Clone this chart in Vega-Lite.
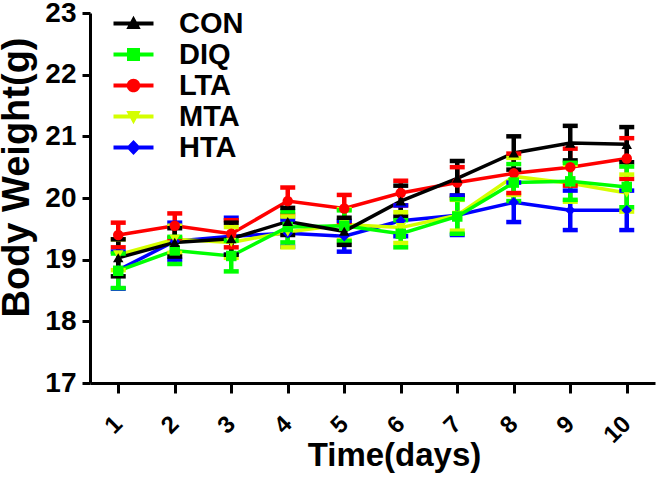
{
  "$schema": "https://vega.github.io/schema/vega-lite/v6.json",
  "autosize": {"type": "none"},
  "width": 565,
  "height": 370,
  "padding": {"left": 90, "top": 13, "right": 6, "bottom": 95},
  "background": "white",
  "config": {
    "view": {"stroke": null},
    "font": "Liberation Sans",
    "axis": {"grid": false, "domainColor": "black", "domainWidth": 3, "tickColor": "black", "tickWidth": 3, "tickSize": 8, "labelFont": "Liberation Sans", "labelFontWeight": "bold", "labelFontSize": 28, "labelColor": "black", "titleFont": "Liberation Sans", "titleFontWeight": "bold", "titleFontSize": 33, "titleColor": "black"},
    "range": {"category": ["#000000", "#00FF00", "#FF0000", "#D4FF00", "#0000FF"]}
  },
  "data": {"values": [
    {"group": "HTA", "day": 1, "mean": 18.83, "lo": 18.53, "hi": 19.13},
    {"group": "HTA", "day": 2, "mean": 19.30, "lo": 19.00, "hi": 19.60},
    {"group": "HTA", "day": 3, "mean": 19.38, "lo": 19.08, "hi": 19.68},
    {"group": "HTA", "day": 4, "mean": 19.43, "lo": 19.21, "hi": 19.65},
    {"group": "HTA", "day": 5, "mean": 19.38, "lo": 19.13, "hi": 19.63},
    {"group": "HTA", "day": 6, "mean": 19.63, "lo": 19.38, "hi": 19.88},
    {"group": "HTA", "day": 7, "mean": 19.72, "lo": 19.40, "hi": 20.04},
    {"group": "HTA", "day": 8, "mean": 19.93, "lo": 19.61, "hi": 20.25},
    {"group": "HTA", "day": 9, "mean": 19.80, "lo": 19.48, "hi": 20.12},
    {"group": "HTA", "day": 10, "mean": 19.80, "lo": 19.48, "hi": 20.12},
    {"group": "MTA", "day": 1, "mean": 19.08, "lo": 18.83, "hi": 19.33},
    {"group": "MTA", "day": 2, "mean": 19.33, "lo": 19.11, "hi": 19.55},
    {"group": "MTA", "day": 3, "mean": 19.28, "lo": 19.03, "hi": 19.53},
    {"group": "MTA", "day": 4, "mean": 19.45, "lo": 19.20, "hi": 19.70},
    {"group": "MTA", "day": 5, "mean": 19.57, "lo": 19.32, "hi": 19.82},
    {"group": "MTA", "day": 6, "mean": 19.52, "lo": 19.27, "hi": 19.77},
    {"group": "MTA", "day": 7, "mean": 19.72, "lo": 19.47, "hi": 19.97},
    {"group": "MTA", "day": 8, "mean": 20.35, "lo": 20.05, "hi": 20.65},
    {"group": "MTA", "day": 9, "mean": 20.24, "lo": 19.94, "hi": 20.54},
    {"group": "MTA", "day": 10, "mean": 20.08, "lo": 19.78, "hi": 20.38},
    {"group": "LTA", "day": 1, "mean": 19.40, "lo": 19.20, "hi": 19.60},
    {"group": "LTA", "day": 2, "mean": 19.55, "lo": 19.35, "hi": 19.75},
    {"group": "LTA", "day": 3, "mean": 19.42, "lo": 19.20, "hi": 19.64},
    {"group": "LTA", "day": 4, "mean": 19.95, "lo": 19.73, "hi": 20.17},
    {"group": "LTA", "day": 5, "mean": 19.83, "lo": 19.61, "hi": 20.05},
    {"group": "LTA", "day": 6, "mean": 20.08, "lo": 19.88, "hi": 20.28},
    {"group": "LTA", "day": 7, "mean": 20.25, "lo": 20.00, "hi": 20.50},
    {"group": "LTA", "day": 8, "mean": 20.40, "lo": 20.08, "hi": 20.72},
    {"group": "LTA", "day": 9, "mean": 20.50, "lo": 20.20, "hi": 20.80},
    {"group": "LTA", "day": 10, "mean": 20.64, "lo": 20.31, "hi": 20.97},
    {"group": "DIQ", "day": 1, "mean": 18.82, "lo": 18.54, "hi": 19.10},
    {"group": "DIQ", "day": 2, "mean": 19.15, "lo": 18.93, "hi": 19.37},
    {"group": "DIQ", "day": 3, "mean": 19.06, "lo": 18.81, "hi": 19.31},
    {"group": "DIQ", "day": 4, "mean": 19.53, "lo": 19.28, "hi": 19.78},
    {"group": "DIQ", "day": 5, "mean": 19.55, "lo": 19.30, "hi": 19.80},
    {"group": "DIQ", "day": 6, "mean": 19.42, "lo": 19.20, "hi": 19.64},
    {"group": "DIQ", "day": 7, "mean": 19.70, "lo": 19.42, "hi": 19.98},
    {"group": "DIQ", "day": 8, "mean": 20.25, "lo": 19.95, "hi": 20.55},
    {"group": "DIQ", "day": 9, "mean": 20.27, "lo": 19.97, "hi": 20.57},
    {"group": "DIQ", "day": 10, "mean": 20.18, "lo": 19.85, "hi": 20.51},
    {"group": "CON", "day": 1, "mean": 19.03, "lo": 18.73, "hi": 19.33},
    {"group": "CON", "day": 2, "mean": 19.28, "lo": 19.05, "hi": 19.51},
    {"group": "CON", "day": 3, "mean": 19.34, "lo": 19.08, "hi": 19.60},
    {"group": "CON", "day": 4, "mean": 19.62, "lo": 19.40, "hi": 19.84},
    {"group": "CON", "day": 5, "mean": 19.46, "lo": 19.24, "hi": 19.68},
    {"group": "CON", "day": 6, "mean": 19.95, "lo": 19.70, "hi": 20.20},
    {"group": "CON", "day": 7, "mean": 20.32, "lo": 20.04, "hi": 20.60},
    {"group": "CON", "day": 8, "mean": 20.73, "lo": 20.46, "hi": 21.00},
    {"group": "CON", "day": 9, "mean": 20.89, "lo": 20.61, "hi": 21.17},
    {"group": "CON", "day": 10, "mean": 20.87, "lo": 20.58, "hi": 21.15}
  ]},
  "encoding": {
    "x": {"field": "day", "type": "quantitative",
      "scale": {"domain": [0.5, 10.5], "nice": false, "zero": false},
      "axis": {"values": [1,2,3,4,5,6,7,8,9,10], "title": "Time(days)", "labelAngle": -45, "labelAlign": "right", "labelBaseline": "middle", "labelPadding": 27, "labelFontSize": 24, "tickSize": 10, "titleX": 304, "titleY": 56, "titleBaseline": "top"}}
  },
  "resolve": {"scale": {"shape": "independent", "color": "independent"}, "legend": {"shape": "independent", "color": "independent"}},
  "layer": [
    {"mark": {"type": "line", "strokeWidth": 3.5},
     "encoding": {
       "y": {"field": "mean", "type": "quantitative",
         "scale": {"domain": [17, 23], "nice": false, "zero": false},
         "axis": {"values": [17,18,19,20,21,22,23], "format": "d", "title": "Body Weight(g)", "titleFontSize": 38, "labelPadding": 6, "titleX": -54, "titleY": 164, "titleAngle": -90, "titleBaseline": "bottom"}},
       "color": {"field": "group", "type": "nominal", "legend": null, "scale": {"domain": ["CON", "DIQ", "LTA", "MTA", "HTA"]}}}},
    {"mark": {"type": "rule", "strokeWidth": 4.5, "opacity": 1},
     "encoding": {"y": {"field": "lo", "type": "quantitative"}, "y2": {"field": "hi"},
       "color": {"field": "group", "type": "nominal", "legend": null, "scale": {"domain": ["CON", "DIQ", "LTA", "MTA", "HTA"]}}}},
    {"mark": {"type": "tick", "thickness": 4.5, "size": 15, "orient": "horizontal", "opacity": 1},
     "encoding": {"y": {"field": "lo", "type": "quantitative"},
       "color": {"field": "group", "type": "nominal", "legend": null, "scale": {"domain": ["CON", "DIQ", "LTA", "MTA", "HTA"]}}}},
    {"mark": {"type": "tick", "thickness": 4.5, "size": 15, "orient": "horizontal", "opacity": 1},
     "encoding": {"y": {"field": "hi", "type": "quantitative"},
       "color": {"field": "group", "type": "nominal", "legend": null, "scale": {"domain": ["CON", "DIQ", "LTA", "MTA", "HTA"]}}}},
    {"mark": {"type": "point", "filled": true, "size": 110, "opacity": 1},
     "encoding": {"y": {"field": "mean", "type": "quantitative"},
       "color": {"field": "group", "type": "nominal", "legend": null, "scale": {"domain": ["CON", "DIQ", "LTA", "MTA", "HTA"]}},
       "shape": {"field": "group", "type": "nominal", "legend": null,
         "scale": {"domain": ["CON", "DIQ", "LTA", "MTA", "HTA"], "range": ["triangle-up", "square", "circle", "triangle-down", "diamond"]}}}},
    {"mark": {"type": "point", "filled": true, "size": 400, "opacity": 0},
     "encoding": {"y": {"field": "mean", "type": "quantitative"},
       "color": {"field": "group", "type": "nominal", "scale": {"domain": ["CON", "DIQ", "LTA", "MTA", "HTA"]},
         "legend": {"title": null, "orient": "none", "legendX": 29, "legendY": -4, "padding": 0, "symbolSize": 400, "symbolOpacity": 1, "symbolStrokeWidth": 0, "labelOffset": 31, "rowPadding": 1, "labelFont": "Liberation Sans", "labelFontWeight": "bold", "labelFontSize": 29, "labelColor": "black"}},
       "shape": {"field": "group", "type": "nominal",
         "scale": {"domain": ["CON", "DIQ", "LTA", "MTA", "HTA"], "range": [
           "M-2,-0.2H2V0.2H-2Z M0,-0.78L0.72,0.55L-0.72,0.55Z",
           "M-2,-0.2H2V0.2H-2Z M-0.65,-0.65H0.65V0.65H-0.65Z",
           "M-2,-0.2H2V0.2H-2Z M-0.68,0A0.68,0.68 0 1,1 0.68,0A0.68,0.68 0 1,1 -0.68,0Z",
           "M-2,-0.2H2V0.2H-2Z M0,0.78L-0.72,-0.55L0.72,-0.55Z",
           "M-2,-0.2H2V0.2H-2Z M0,-0.75L0.72,0L0,0.75L-0.72,0Z"]},
         "legend": {"title": null, "orient": "none", "legendX": 29, "legendY": -4, "padding": 0, "symbolSize": 400, "symbolOpacity": 1, "symbolStrokeWidth": 0, "labelOffset": 31, "rowPadding": 1, "labelFont": "Liberation Sans", "labelFontWeight": "bold", "labelFontSize": 29, "labelColor": "black"}}}}
  ]
}
